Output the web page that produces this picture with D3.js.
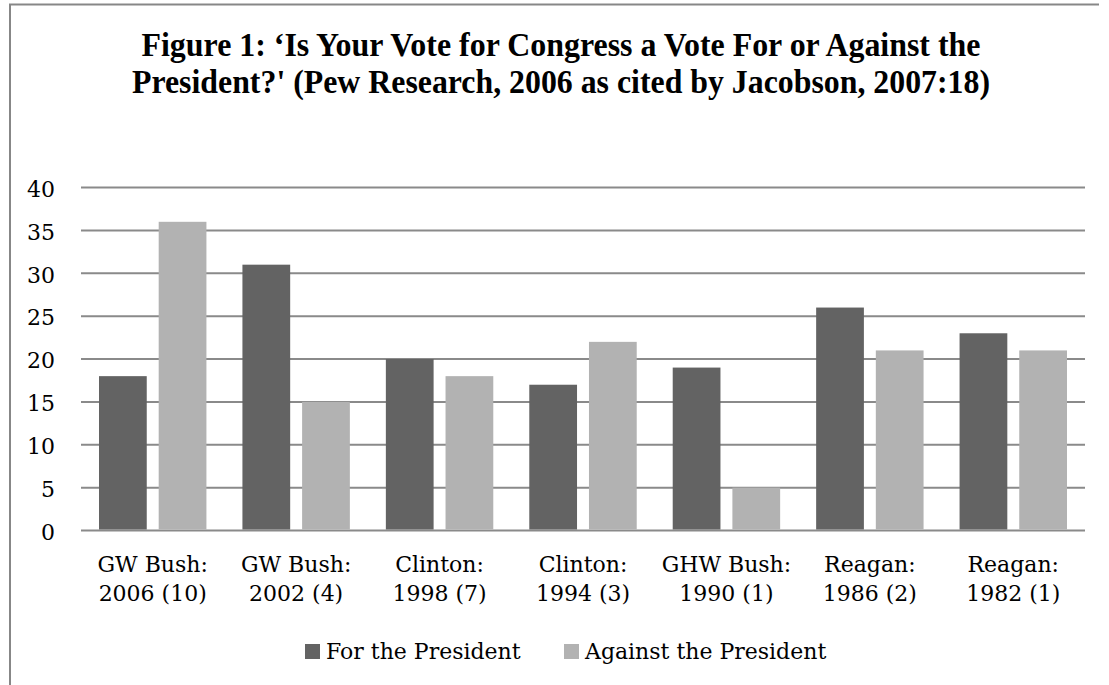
<!DOCTYPE html>
<html>
<head>
<meta charset="utf-8">
<script src="https://cdn.jsdelivr.net/npm/d3@7"></script>
<style>
  html, body { margin: 0; padding: 0; background: #fff; }
  svg { display: block; }
</style>
</head>
<body>
<svg id="chart" width="1109" height="685"></svg>
<script>
// Survey results: share of voters saying their vote is for / against the president
const categories = [
  ["GW Bush:", "2006 (10)"],
  ["GW Bush:", "2002 (4)"],
  ["Clinton:", "1998 (7)"],
  ["Clinton:", "1994 (3)"],
  ["GHW Bush:", "1990 (1)"],
  ["Reagan:", "1986 (2)"],
  ["Reagan:", "1982 (1)"]
];
const seriesNames = ["For the President", "Against the President"];
const forValues = [18, 31, 20, 17, 19, 26, 23];
const againstValues = [36, 15, 18, 22, 5, 21, 21];
const yTicks = [0, 5, 10, 15, 20, 25, 30, 35, 40];
const titleLines = [
  "Figure 1: \u2018Is Your Vote for Congress a Vote For or Against the",
  "President?' (Pew Research, 2006 as cited by Jacobson, 2007:18)"
];

const colors = { "For the President": "#636363", "Against the President": "#b2b2b2" };
const labelFont = "'DejaVu Serif', serif";
const labelSize = 22;

const svg = d3.select("#chart");

// Outer chart frame (top and left edges visible)
svg.append("path")
  .attr("d", "M10,685 V4.5 H1099")
  .attr("fill", "none")
  .attr("stroke", "#878787")
  .attr("stroke-width", 2);

// Title, two condensed bold lines
const titleWidths = [839, 858];
svg.append("g").selectAll("text")
  .data(titleLines)
  .join("text")
  .attr("x", 561)
  .attr("y", (d, i) => 56 + i * 37)
  .attr("text-anchor", "middle")
  .attr("font-family", "'Liberation Serif', 'Times New Roman', serif")
  .attr("font-weight", "bold")
  .attr("font-size", 34)
  .attr("textLength", (d, i) => titleWidths[i])
  .attr("lengthAdjust", "spacingAndGlyphs")
  .attr("fill", "#000")
  .text(d => d);

// Plot area
const plot = { left: 81, right: 1085, top: 187.5, bottom: 530.5 };

const keys = categories.map(c => c.join(" "));
const x0 = d3.scaleBand().domain(keys).range([plot.left, plot.right]).padding(0);
const groupPad = 18;
const x1 = d3.scaleBand().domain(seriesNames)
  .range([groupPad, x0.bandwidth() - groupPad])
  .paddingInner(0.2).paddingOuter(0);
const y = d3.scaleLinear().domain([0, 40]).range([plot.bottom, plot.top]);

// Horizontal gridlines
svg.append("g").selectAll("line")
  .data(yTicks)
  .join("line")
  .attr("x1", plot.left).attr("x2", plot.right)
  .attr("y1", d => y(d)).attr("y2", d => y(d))
  .attr("stroke", "#8a8a8a")
  .attr("stroke-width", 2);

// Y axis labels
const yAxis = d3.axisLeft(y).tickValues(yTicks).tickSize(0).tickPadding(0);
const yG = svg.append("g")
  .attr("transform", `translate(${plot.left - 26},0)`)
  .call(yAxis);
yG.select(".domain").remove();
yG.selectAll("text")
  .attr("font-family", labelFont)
  .attr("font-size", labelSize)
  .attr("fill", "#000")
  .attr("dy", "0.4em");

// Bars
const rows = categories.map((c, i) => ({
  key: keys[i],
  values: [
    { series: seriesNames[0], value: forValues[i] },
    { series: seriesNames[1], value: againstValues[i] }
  ]
}));

svg.append("g").selectAll("g")
  .data(rows)
  .join("g")
  .attr("transform", d => `translate(${x0(d.key)},0)`)
  .selectAll("rect")
  .data(d => d.values)
  .join("rect")
  .attr("x", d => x1(d.series))
  .attr("width", x1.bandwidth())
  .attr("y", d => y(d.value))
  .attr("height", d => y(0) - y(d.value) - 1)
  .attr("fill", d => colors[d.series]);

// Category labels (two lines)
const catG = svg.append("g");
rows.forEach((r, i) => {
  const cx = x0(r.key) + x0.bandwidth() / 2;
  const t = catG.append("text")
    .attr("x", cx)
    .attr("y", 572)
    .attr("text-anchor", "middle")
    .attr("font-family", labelFont)
    .attr("font-size", labelSize)
    .attr("fill", "#000");
  categories[i].forEach((line, j) => {
    t.append("tspan")
      .attr("x", cx)
      .attr("dy", j === 0 ? 0 : 29)
      .text(line);
  });
});

// Legend
const legendX = [305, 564];
const legend = svg.append("g").selectAll("g")
  .data(seriesNames)
  .join("g")
  .attr("transform", (d, i) => `translate(${legendX[i]},644)`);
legend.append("rect")
  .attr("width", 15).attr("height", 15)
  .attr("fill", d => colors[d]);
legend.append("text")
  .attr("x", 21)
  .attr("y", 15)
  .attr("font-family", labelFont)
  .attr("font-size", labelSize)
  .attr("fill", "#000")
  .text(d => d);
</script>
</body>
</html>
